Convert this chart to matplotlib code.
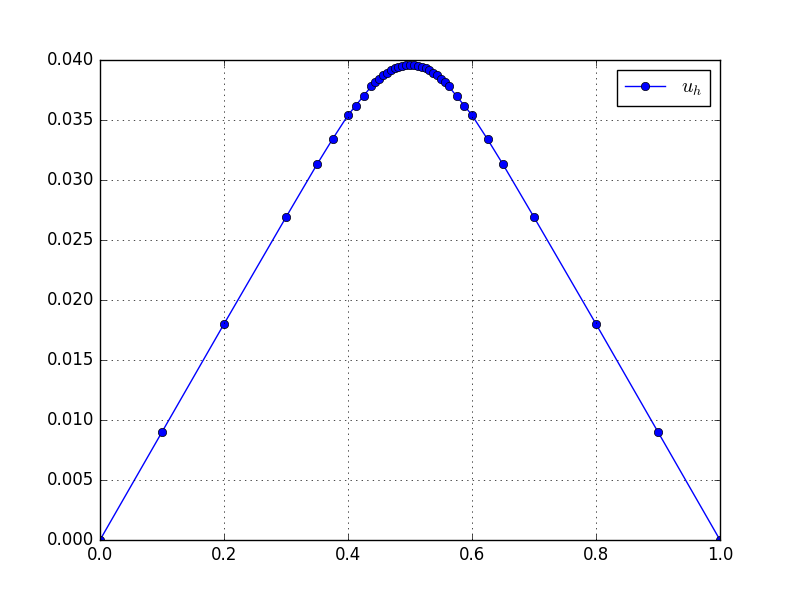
import matplotlib
matplotlib.use("Agg")
import matplotlib.pyplot as plt

plt.style.use('classic')

x = [0.0, 0.1, 0.2, 0.3, 0.35, 0.375, 0.4, 0.4125, 0.425,
     0.4375, 0.44375, 0.45, 0.45625, 0.4625, 0.46875, 0.475, 0.48125, 0.4875, 0.49375,
     0.5,
     0.50625, 0.5125, 0.51875, 0.525, 0.53125, 0.5375, 0.54375, 0.55, 0.55625, 0.5625,
     0.575, 0.5875, 0.6, 0.625, 0.65, 0.7, 0.8, 0.9, 1.0]
u = [0.0, 0.0090, 0.0180, 0.0269, 0.0313, 0.0334, 0.0354, 0.0362, 0.0370,
     0.03780, 0.03814, 0.03845, 0.03872, 0.03895, 0.03915, 0.03931, 0.03944, 0.03953, 0.03958,
     0.03960,
     0.03958, 0.03953, 0.03944, 0.03931, 0.03915, 0.03895, 0.03872, 0.03845, 0.03814, 0.03780,
     0.0370, 0.0362, 0.0354, 0.0334, 0.0313, 0.0269, 0.0180, 0.0090, 0.0]

fig = plt.figure(figsize=(8, 6), dpi=100)
ax = fig.add_subplot(111)
ax.plot(x, u, 'bo-', label='$u_h$')
ax.set_xlim(0, 1)
ax.set_ylim(0, 0.04)
ax.set_yticks([0.0, 0.005, 0.01, 0.015, 0.02, 0.025, 0.03, 0.035, 0.04])
ax.set_yticklabels(['0.000', '0.005', '0.010', '0.015', '0.020', '0.025', '0.030', '0.035', '0.040'])
ax.grid(True)
ax.legend(loc='upper right', numpoints=1)
fig.savefig('out.png', dpi=100)
